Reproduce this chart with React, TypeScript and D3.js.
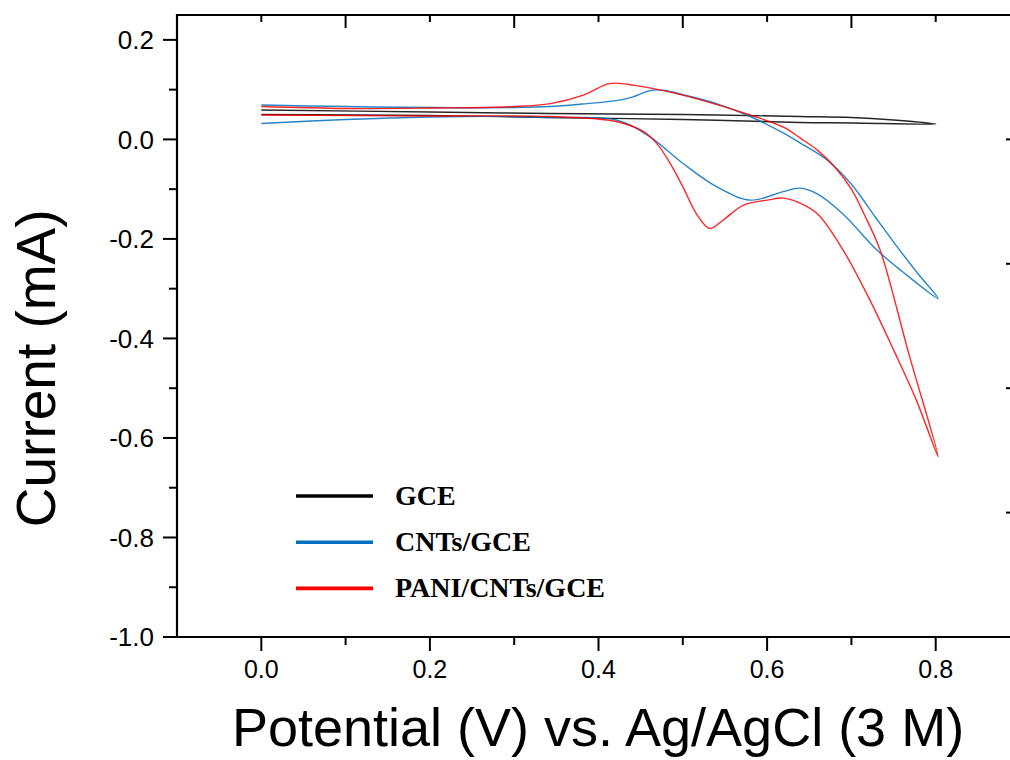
import React from 'react';
import * as d3 from 'd3';

// Potential (V) / current (mA) pairs; each loop is forward scan then reverse scan
const gceV = [0, 0.2, 0.343, 0.5, 0.639, 0.7, 0.8, 0.75, 0.7, 0.639, 0.5, 0.343, 0.2, 0];
const gceI = [0.05, 0.048, 0.044, 0.04, 0.034, 0.033, 0.031, 0.039, 0.044, 0.046, 0.05, 0.052, 0.055, 0.059];

const cntV = [0, 0.1, 0.2, 0.3, 0.343, 0.421, 0.461, 0.5, 0.54, 0.58, 0.619, 0.639, 0.66, 0.69, 0.73, 0.76, 0.803,
  0.78, 0.757, 0.73, 0.7, 0.67, 0.639, 0.619, 0.58, 0.54, 0.5, 0.477, 0.461, 0.44, 0.421, 0.38, 0.343, 0.3, 0.2, 0.1, 0];
const cntI = [0.032, 0.04, 0.045, 0.046, 0.044, 0.039, 0.005, -0.048, -0.095, -0.122, -0.105, -0.098, -0.11, -0.15, -0.222, -0.265, -0.32,
  -0.272, -0.222, -0.16, -0.09, -0.04, -0.007, 0.013, 0.046, 0.072, 0.09, 0.099, 0.098, 0.085, 0.078, 0.071, 0.066, 0.064, 0.064, 0.066, 0.069];

const paniV = [0, 0.2, 0.343, 0.421, 0.453, 0.469, 0.485, 0.5, 0.516, 0.532, 0.548, 0.572, 0.6, 0.619, 0.639, 0.66, 0.69, 0.722, 0.75, 0.777, 0.803,
  0.768, 0.734, 0.715, 0.7, 0.68, 0.66, 0.639, 0.62, 0.58, 0.52, 0.477, 0.441, 0.421, 0.41, 0.382, 0.343, 0.3, 0.2, 0.1, 0];
const paniI = [0.049, 0.047, 0.046, 0.036, 0.016, -0.008, -0.048, -0.095, -0.149, -0.179, -0.162, -0.132, -0.122, -0.118, -0.128, -0.15, -0.222, -0.323, -0.423, -0.524, -0.638,
  -0.43, -0.222, -0.15, -0.1, -0.055, -0.022, 0.003, 0.024, 0.049, 0.08, 0.098, 0.109, 0.113, 0.111, 0.089, 0.072, 0.066, 0.063, 0.062, 0.066];

const seriesNames = ['GCE', 'CNTs/GCE', 'PANI/CNTs/GCE'];
const seriesColors = ['#000000', '#0070c0', '#ff0000'];

const xMajor = [0, 0.2, 0.4, 0.6, 0.8];
const xMinor = [0.1, 0.3, 0.5, 0.7, 0.9];
const yMajor = [0.2, 0, -0.2, -0.4, -0.6, -0.8, -1.0];
const yMinor = [0.1, -0.1, -0.3, -0.5, -0.7, -0.9];
const rightTicks = [0, -0.25, -0.5, -0.75];

const W = 1010;
const H = 760;

const x = d3.scaleLinear().domain([-0.1, 0.9]).range([177, 1020]);
const y = d3.scaleLinear().domain([-1.0, 0.25]).range([637, 15]);

const line = d3
  .line<[number, number]>()
  .x((d) => x(d[0]))
  .y((d) => y(d[1]))
  .curve(d3.curveCatmullRom.alpha(0.5));

const zip = (a: number[], b: number[]): [number, number][] => a.map((v, i) => [v, b[i]]);
const series = [zip(gceV, gceI), zip(cntV, cntI), zip(paniV, paniI)];

// plain hyphen minus, like the original
const fmt = (v: number) => d3.format('.1f')(v).replace('\u2212', '-');
const tickFont = 'Arial, "Liberation Sans", sans-serif';

export default function App() {
  const left = x(-0.1);
  const right = x(0.9);
  const top = y(0.25);
  const bottom = y(-1.0);

  return (
    <svg width={W} height={H} style={{ position: 'absolute', left: 0, top: 0, overflow: 'hidden', background: '#fff' }}>
      {/* data */}
      {series.map((pts, i) => (
        <path key={i} d={line(pts) || ''} fill="none" stroke={seriesColors[i]} strokeWidth={1.4} strokeOpacity={0.85} />
      ))}

      {/* frame */}
      <path d={`M${right},${top}H${left}V${bottom}H${right}V${top}`} fill="none" stroke="#000" strokeWidth={2.2} />

      {/* left axis */}
      {yMajor.map((v) => (
        <g key={'ly' + v}>
          <line x1={left - 14} x2={left} y1={y(v)} y2={y(v)} stroke="#000" strokeWidth={2} />
          <text x={left - 23} y={y(v)} dy="0.36em" textAnchor="end" fontFamily={tickFont} fontSize={26} fill="#000">
            {fmt(v)}
          </text>
        </g>
      ))}
      {yMinor.map((v) => (
        <line key={'lm' + v} x1={left - 8} x2={left} y1={y(v)} y2={y(v)} stroke="#000" strokeWidth={2} />
      ))}

      {/* right axis ticks */}
      {rightTicks.map((v) => (
        <line key={'r' + v} x1={right - 14} x2={right} y1={y(v)} y2={y(v)} stroke="#000" strokeWidth={2} />
      ))}

      {/* bottom axis */}
      {xMajor.map((v) => (
        <g key={'bx' + v}>
          <line x1={x(v)} x2={x(v)} y1={bottom} y2={bottom + 14} stroke="#000" strokeWidth={2} />
          <text x={x(v)} y={bottom + 41} textAnchor="middle" fontFamily={tickFont} fontSize={25} fill="#000">
            {fmt(v)}
          </text>
        </g>
      ))}
      {xMinor.map((v) => (
        <line key={'bm' + v} x1={x(v)} x2={x(v)} y1={bottom} y2={bottom + 8} stroke="#000" strokeWidth={2} />
      ))}

      {/* top axis (inward ticks, long on odd tenths) */}
      {xMinor.map((v) => (
        <line key={'tl' + v} x1={x(v)} x2={x(v)} y1={top} y2={top + 13} stroke="#000" strokeWidth={2} />
      ))}
      {xMajor.map((v) => (
        <line key={'ts' + v} x1={x(v)} x2={x(v)} y1={top} y2={top + 7} stroke="#000" strokeWidth={2} />
      ))}

      {/* axis titles */}
      <text x={598} y={746} textAnchor="middle" fontFamily={tickFont} fontSize={54} fill="#000">
        Potential (V) vs. Ag/AgCl (3 M)
      </text>
      <text
        transform={`translate(55,${y(-0.46)}) rotate(-90)`}
        textAnchor="middle"
        fontFamily={tickFont}
        fontSize={55}
        fill="#000"
      >
        Current (mA)
      </text>

      {/* legend */}
      {seriesNames.map((name, i) => {
        const ly = 496 + i * 46.2;
        return (
          <g key={name}>
            <line x1={296} x2={373} y1={ly} y2={ly} stroke={seriesColors[i]} strokeWidth={3.6} />
            <text x={395} y={ly + 9} fontFamily='"Times New Roman", "Liberation Serif", serif' fontWeight="bold" fontSize={28} fill="#000">
              {name}
            </text>
          </g>
        );
      })}
    </svg>
  );
}
